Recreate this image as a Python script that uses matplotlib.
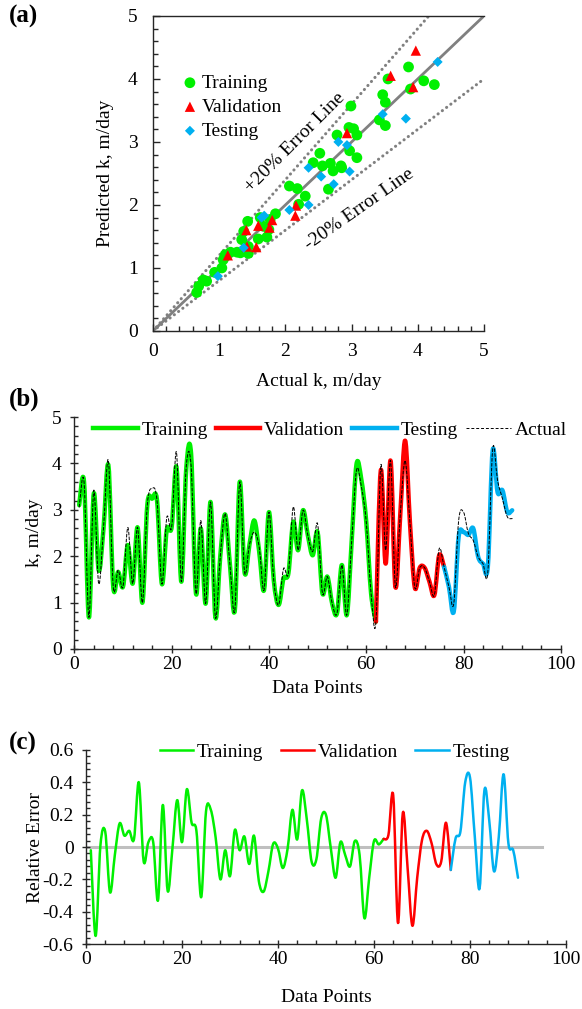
import matplotlib
matplotlib.use("Agg")
import matplotlib.pyplot as plt
import matplotlib.ticker as mticker
import numpy as np
from matplotlib.lines import Line2D
from matplotlib.patches import PathPatch
from matplotlib.path import Path

GREEN = "#00F000"
RED = "#FF0000"
BLUE = "#00B0F0"
GREY = "#808080"
LIGHT_GREY = "#BFBFBF"

# ---- (a) cross-plot data: actual vs predicted k (m/day)
train_act = [0.66, 0.69, 0.76, 0.81, 0.93, 1.04, 1.06, 1.09, 1.17, 1.27, 1.32, 1.34, 1.37,
             1.43, 1.44, 1.44, 1.59, 1.72, 1.62, 1.67, 1.75, 1.85, 1.77, 2.06, 2.18, 2.30,
             2.20, 2.42, 2.52, 2.56, 2.68, 2.72, 2.65, 2.78, 2.84, 2.85, 2.96, 2.99, 3.03,
             3.08, 2.97, 3.08, 3.47, 3.51, 3.42, 3.51, 3.55, 3.86, 3.89, 4.09, 4.25]
train_pred = [0.61, 0.71, 0.81, 0.79, 0.93, 1.00, 1.13, 1.21, 1.25, 1.25, 1.24, 1.45, 1.58,
              1.74, 1.23, 1.34, 1.46, 1.49, 1.80, 1.66, 1.61, 1.86, 1.77, 2.30, 2.26, 2.14,
              2.01, 2.67, 2.82, 2.62, 2.66, 2.54, 2.25, 3.11, 2.62, 2.59, 3.23, 3.57, 3.21,
              3.11, 2.86, 2.75, 3.75, 3.63, 3.35, 3.26, 4.00, 4.19, 3.84, 3.97, 3.91]
val_act = [1.13, 1.41, 1.42, 1.56, 1.59, 1.76, 1.80, 2.15, 2.16, 2.93, 3.59, 3.93, 3.97]
val_pred = [1.20, 1.60, 1.34, 1.33, 1.67, 1.64, 1.76, 1.83, 1.99, 3.14, 4.05, 3.87, 4.45]
test_act = [0.98, 1.37, 1.64, 1.68, 2.06, 2.35, 2.35, 2.54, 2.73, 2.80, 2.93, 2.97, 3.47,
            3.82, 4.30]
test_pred = [0.87, 1.32, 1.80, 1.83, 1.92, 2.00, 2.59, 2.45, 2.33, 3.00, 2.95, 2.53, 3.44,
             3.37, 4.27]

# ---- (b) k per data point (1..90)
points = np.arange(1, 91)
k_pred = [3.10, 3.60, 0.68, 3.35, 1.70, 2.60, 3.96, 1.34, 1.66, 1.34,
          2.24, 1.41, 2.62, 1.00, 3.10, 3.24, 3.20, 1.40, 2.57, 2.62,
          3.92, 1.45, 3.88, 4.21, 1.20, 2.60, 0.98, 3.17, 0.68, 2.00,
          2.90, 1.80, 0.84, 3.60, 1.65, 2.25, 2.77, 2.10, 1.27, 2.95,
          1.48, 0.95, 1.52, 1.63, 2.74, 2.13, 2.99, 2.45, 2.02, 2.52,
          1.20, 1.56, 0.98, 0.77, 1.81, 0.73, 2.30, 3.98, 3.65, 2.75,
          1.20, 0.59, 3.85, 1.84, 4.06, 1.34, 2.90, 4.49, 2.70, 1.32,
          1.75, 1.75, 1.45, 1.16, 2.02, 1.77, 1.34, 0.81, 2.42, 2.52,
          2.46, 2.60, 1.99, 1.84, 1.78, 4.28, 3.38, 3.42, 2.95, 2.99]
k_actual = [3.06, 3.60, 0.68, 3.42, 1.41, 2.60, 4.06, 1.34, 1.70, 1.34,
            2.62, 1.41, 2.62, 1.00, 3.10, 3.46, 3.20, 1.40, 2.83, 2.62,
            4.24, 1.45, 3.92, 3.95, 1.20, 2.77, 0.98, 3.17, 0.68, 2.00,
            2.92, 1.80, 0.84, 3.60, 1.65, 2.25, 2.52, 2.20, 1.27, 2.95,
            1.48, 0.95, 1.73, 1.63, 3.06, 2.13, 2.99, 2.45, 2.10, 2.70,
            1.20, 1.56, 0.98, 0.77, 1.81, 0.73, 2.30, 3.85, 3.50, 2.75,
            1.20, 0.59, 3.96, 2.13, 4.06, 1.34, 2.90, 4.06, 2.70, 1.32,
            1.75, 1.75, 1.45, 1.16, 2.16, 1.77, 1.34, 0.98, 2.77, 2.95,
            2.49, 2.34, 1.99, 1.84, 1.66, 4.31, 3.63, 3.24, 2.85, 2.81]

# ---- (c) relative error per data point
rel_err = [-0.02, -0.55, 0.01, 0.095, -0.28, -0.05, 0.146, 0.07, 0.10, 0.05,
           0.40, -0.087, 0.03, 0.03, -0.33, 0.26, -0.27, -0.01, 0.29, 0.03,
           0.357, 0.15, 0.10, -0.31, 0.22, 0.23, 0.06, -0.20, -0.02, -0.18,
           0.105, -0.02, 0.065, -0.105, 0.07, -0.21, -0.276, -0.15, 0.02, -0.01,
           -0.13, -0.01, 0.23, 0.047, 0.35, 0.17, -0.09, -0.075, 0.177, 0.198,
           -0.008, -0.19, 0.03, -0.05, -0.12, 0.037, -0.05, -0.44, -0.19, 0.037,
           0.016, 0.05, 0.074, 0.32, -0.47, 0.21, -0.13, -0.487, -0.19, 0.043,
           0.10, 0.023, -0.107, -0.09, 0.15, -0.142, 0.054, 0.095, 0.40, 0.43,
           0.064, -0.256, 0.35, 0.167, -0.15, 0.064, 0.45, 0.023, -0.02, -0.19]
zero_x = [0, 95]
zero_y = [0, 0]

# index ranges of each subset (data points 1-62, 62-76, 76-90)
TRAIN = slice(0, 62)
VALID = slice(61, 76)
TEST = slice(75, 90)

plt.rcParams.update({
    "font.family": ["Liberation Serif", "DejaVu Serif"],
    "font.size": 14,
    "axes.unicode_minus": False,
    "axes.linewidth": 1.0,
    "axes.edgecolor": "#262626",
    "xtick.color": "#262626",
    "ytick.color": "#262626",
    "xtick.labelcolor": "black",
    "ytick.labelcolor": "black",
})


def smooth_path(xs, ys):
    """Excel-like smoothed line: cubic Bezier through every point."""
    pts = np.column_stack([xs, ys]).astype(float)
    n = len(pts)
    verts = [pts[0]]
    codes = [Path.MOVETO]
    for i in range(n - 1):
        p0 = pts[max(i - 1, 0)]
        p1 = pts[i]
        p2 = pts[i + 1]
        p3 = pts[min(i + 2, n - 1)]
        verts += [p1 + (p2 - p0) / 6, p2 - (p3 - p1) / 6, p2]
        codes += [Path.CURVE4] * 3
    return Path(verts, codes)


def add_smooth(ax, xs, ys, **kw):
    patch = PathPatch(smooth_path(xs, ys), fill=False, capstyle="round",
                      joinstyle="round", **kw)
    ax.add_patch(patch)
    return patch


def _ticks_excel(ax, xmajor, xminor, ymajor, yminor):
    ax.xaxis.set_major_locator(mticker.MultipleLocator(xmajor))
    ax.xaxis.set_minor_locator(mticker.MultipleLocator(xminor))
    ax.yaxis.set_major_locator(mticker.MultipleLocator(ymajor))
    ax.yaxis.set_minor_locator(mticker.MultipleLocator(yminor))
    ax.tick_params(which="major", direction="inout", length=6, width=1.0)
    ax.tick_params(which="minor", direction="in", length=3, width=1.0)
    ax.tick_params(axis="x", which="major", pad=2)
    ax.tick_params(axis="y", which="major", pad=6)
    for s in ("top", "right"):
        ax.spines[s].set_visible(False)


fig = plt.figure(figsize=(5.82, 10.09), dpi=100)

# ---------------- (a)
ax1 = fig.add_axes([0.2629, 0.6720, 0.5687, 0.3122])
ax1.plot([0, 5], [0, 5], color=GREY, lw=2.0, zorder=2)
ax1.plot([0, 5 / 1.2], [0, 5], color=GREY, lw=2.2, ls=(0, (0.05, 1.7)),
         dash_capstyle="round", zorder=2)
ax1.plot([0, 5], [0, 4], color=GREY, lw=2.2, ls=(0, (0.05, 1.7)),
         dash_capstyle="round", zorder=2)
ax1.scatter(train_act, train_pred, s=60, marker="o", c=GREEN,
            edgecolors="none", zorder=3, label="Training")
ax1.scatter(val_act, val_pred, s=55, marker="^", c=RED,
            edgecolors="none", zorder=4, label="Validation")
ax1.scatter(test_act, test_pred, s=26, marker="D", c=BLUE,
            edgecolors="none", zorder=4, label="Testing")
ax1.text(2.15, 2.99, "+20% Error Line", rotation=45, ha="center",
         va="center", rotation_mode="anchor")
ax1.text(3.11, 1.93, "-20% Error Line", rotation=35, ha="center",
         va="center", rotation_mode="anchor")
ax1.set_xlim(0, 5)
ax1.set_ylim(0, 5)
ax1.xaxis.set_major_locator(mticker.MultipleLocator(1))
ax1.xaxis.set_minor_locator(mticker.MultipleLocator(0.2))
ax1.yaxis.set_major_locator(mticker.MultipleLocator(1))
ax1.yaxis.set_minor_locator(mticker.MultipleLocator(0.2))
ax1.tick_params(which="major", direction="in", length=5, width=1.0)
ax1.tick_params(which="minor", direction="in", length=3.5, width=1.0)
ax1.tick_params(axis="x", which="major", pad=9)
ax1.tick_params(axis="y", which="major", pad=11)
ax1.spines["right"].set_visible(False)
ax1.set_xlabel("Actual k, m/day")
ax1.set_ylabel("Predicted k, m/day")
ax1.xaxis.set_label_coords(0.5, -0.162)
ax1.xaxis.label.set_va("center")
ax1.yaxis.set_label_coords(-0.144, 0.5)
ax1.yaxis.label.set_va("center")
ax1.legend(loc="upper left", bbox_to_anchor=(0.088, 0.815), frameon=False,
           handletextpad=0.2, handlelength=0.8, labelspacing=0.33,
           borderaxespad=0, borderpad=0)

# ---------------- (b)
ax2 = fig.add_axes([0.1277, 0.3568, 0.8359, 0.2299])
add_smooth(ax2, points[TRAIN], k_pred[TRAIN], ec=GREEN, lw=3.2, zorder=2)
add_smooth(ax2, points[VALID], k_pred[VALID], ec=RED, lw=3.2, zorder=2)
add_smooth(ax2, points[TEST], k_pred[TEST], ec=BLUE, lw=3.2, zorder=2)
add_smooth(ax2, points, k_actual, ec="black", lw=0.7, ls=(0, (3, 2)), zorder=3)
ax2.set_xlim(0, 100)
ax2.set_ylim(0, 5)
_ticks_excel(ax2, 20, 4, 1, 0.2)
ax2.set_xlabel("Data Points")
ax2.set_ylabel("k, m/day")
ax2.xaxis.set_label_coords(0.5, -0.172)
ax2.xaxis.label.set_va("center")
ax2.yaxis.set_label_coords(-0.082, 0.5)
ax2.yaxis.label.set_va("center")
handles_b = [Line2D([], [], color=GREEN, lw=3.2),
             Line2D([], [], color=RED, lw=3.2),
             Line2D([], [], color=BLUE, lw=3.2),
             Line2D([], [], color="black", lw=0.7, ls=(0, (3, 2)))]
ax2.legend(handles_b, ["Training", "Validation", "Testing", "Actual"],
           loc="center left", bbox_to_anchor=(0.038, 0.944), ncol=4,
           frameon=False, handlelength=2.3, handletextpad=0.2,
           columnspacing=0.4, borderaxespad=0, borderpad=0)

# ---------------- (c)
ax3 = fig.add_axes([0.1478, 0.0644, 0.8247, 0.1923])
ax3.plot(zero_x, zero_y, color=LIGHT_GREY, lw=2.2, zorder=1)
err = np.array(rel_err)
add_smooth(ax3, points[TRAIN], err[TRAIN], ec=GREEN, lw=1.8, zorder=2)
add_smooth(ax3, points[VALID], err[VALID], ec=RED, lw=1.8, zorder=2)
add_smooth(ax3, points[TEST], err[TEST], ec=BLUE, lw=1.8, zorder=2)
ax3.set_xlim(0, 100)
ax3.set_ylim(-0.6, 0.6)
_ticks_excel(ax3, 20, 4, 0.2, 0.04)
ax3.yaxis.set_major_formatter(mticker.FuncFormatter(
    lambda v, _: "0" if abs(v) < 1e-9 else f"{v:.1f}"))
ax3.set_xlabel("Data Points")
ax3.set_ylabel("Relative Error")
ax3.xaxis.set_label_coords(0.5, -0.278)
ax3.xaxis.label.set_va("center")
ax3.yaxis.set_label_coords(-0.106, 0.5)
ax3.yaxis.label.set_va("center")
handles_c = [Line2D([], [], color=GREEN, lw=1.8),
             Line2D([], [], color=RED, lw=1.8),
             Line2D([], [], color=BLUE, lw=1.8)]
ax3.legend(handles_c, ["Training", "Validation", "Testing"],
           loc="center left", bbox_to_anchor=(0.154, 0.99), ncol=3,
           frameon=False, handlelength=1.7, handletextpad=0.2,
           columnspacing=0.9, borderaxespad=0, borderpad=0)

# panel letters
for y, tag in ((0.995, "(a)"), (0.616, "(b)"), (0.275, "(c)")):
    fig.text(0.015, y, tag, fontsize=18, fontweight="bold", va="top")

fig.savefig("out.png", dpi=100)
